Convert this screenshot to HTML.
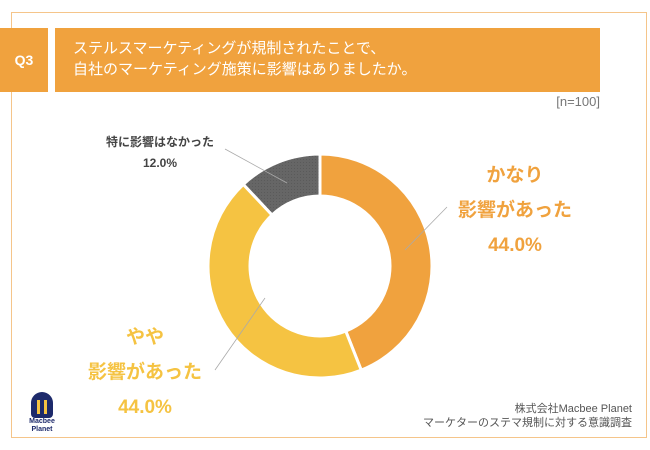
<!DOCTYPE html>
<html><head><meta charset="utf-8"><style>
body{margin:0;width:650px;height:450px;background:#fff;position:relative;overflow:hidden;font-family:"Liberation Sans","Noto Sans CJK JP",sans-serif}
.a{position:absolute}
</style></head><body>
<div class="a" style="left:11px;top:12px;width:634px;height:424px;border:1.5px solid #f5c58a"></div>
<div class="a" style="left:0;top:28px;width:48px;height:64px;background:#f0a23e;color:#fff;font-weight:bold;font-size:14px;line-height:64px;text-align:center">Q3</div>
<div class="a" style="left:55px;top:28px;width:545px;height:64px;background:#f0a23e;color:#fff;font-size:15px;line-height:21px;padding:10px 0 0 18px;box-sizing:border-box">ステルスマーケティングが規制されたことで、<br>自社のマーケティング施策に影響はありましたか。</div>
<div class="a" style="left:530px;top:94px;width:70px;text-align:right;font-size:13px;color:#777">[n=100]</div>
<svg class="a" style="left:0;top:0" width="650" height="450">
<defs><pattern id="dots" width="3" height="3" patternUnits="userSpaceOnUse"><rect width="3" height="3" fill="#666"/><rect width="1" height="1" fill="#5a5a5a"/></pattern></defs>
<g id="slices"></g>
<g stroke="#aaa" stroke-width="0.8" fill="none">
<line x1="405" y1="250" x2="447" y2="207"/>
<line x1="265" y1="298" x2="215" y2="370"/>
<line x1="287" y1="183" x2="225" y2="149"/>
</g>
</svg>
<div class="a" style="left:445px;top:158px;width:140px;text-align:center;color:#f0a23e;font-weight:bold;font-size:19px;line-height:35px">かなり<br>影響があった<br>44.0%</div>
<div class="a" style="left:70px;top:320px;width:150px;text-align:center;color:#f5c342;font-weight:bold;font-size:19px;line-height:35px">やや<br>影響があった<br>44.0%</div>
<div class="a" style="left:100px;top:132px;width:120px;text-align:center;color:#444;font-weight:bold;font-size:12px;line-height:21px">特に影響はなかった<br>12.0%</div>
<div class="a" style="left:20px;top:392px;width:44px;text-align:center">
<div style="width:22px;height:26px;margin:0 auto;background:#1d2a6b;border-radius:11px 11px 4px 4px;position:relative"><div style="position:absolute;left:6px;top:8px;width:3px;height:14px;background:#f5c342"></div><div style="position:absolute;left:13px;top:8px;width:3px;height:14px;background:#f5c342"></div></div>
<div style="font-size:7px;font-weight:bold;color:#1d2a6b;line-height:8px">Macbee<br>Planet</div></div>
<div class="a" style="right:18px;top:402px;text-align:right;font-size:11px;color:#555;line-height:14px">株式会社Macbee Planet<br>マーケターのステマ規制に対する意識調査</div>
<script>
const categories=["かなり影響があった","やや影響があった","特に影響はなかった"];
const values=[44.0,44.0,12.0];
const colors=["#f0a23e","#f5c342","url(#dots)"];
const cx=320,cy=266,R=112,r=70;
const g=document.getElementById('slices');
let total=values.reduce((a,b)=>a+b,0),acc=0;
function pt(rad,frac){const a=frac*2*Math.PI-Math.PI/2;return [cx+rad*Math.cos(a),cy+rad*Math.sin(a)];}
values.forEach((v,i)=>{
 const f0=acc/total,f1=(acc+v)/total;acc+=v;
 const [x0,y0]=pt(R,f0),[x1,y1]=pt(R,f1),[x2,y2]=pt(r,f1),[x3,y3]=pt(r,f0);
 const lg=(f1-f0)>0.5?1:0;
 const p=document.createElementNS('http://www.w3.org/2000/svg','path');
 p.setAttribute('d',`M${x0},${y0}A${R},${R} 0 ${lg} 1 ${x1},${y1}L${x2},${y2}A${r},${r} 0 ${lg} 0 ${x3},${y3}Z`);
 p.setAttribute('fill',colors[i]);p.setAttribute('stroke','#fff');p.setAttribute('stroke-width','3');
 
 
 g.appendChild(p);
});
</script>
</body></html>
